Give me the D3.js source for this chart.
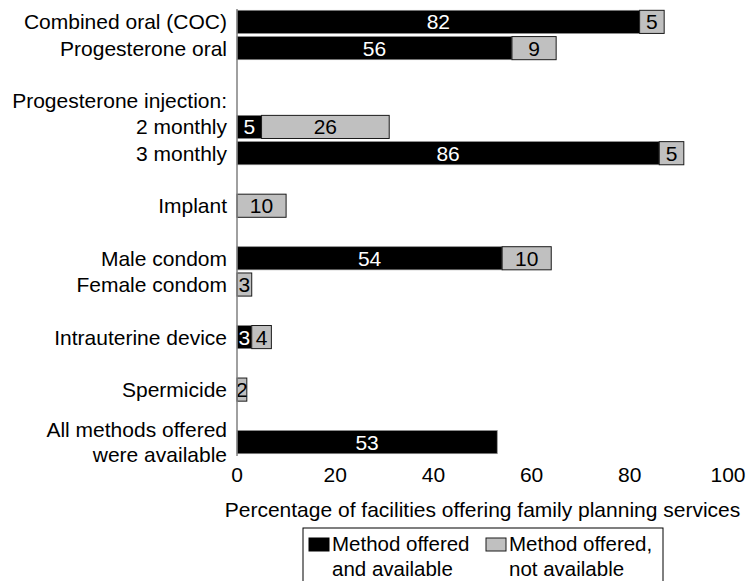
<!DOCTYPE html>
<html>
<head>
<meta charset="utf-8">
<script src="https://cdn.jsdelivr.net/npm/d3@7"></script>
<style>
  body { margin: 0; background: #fff; }
  svg text { font-family: "Liberation Sans", Arial, sans-serif; }
</style>
</head>
<body>
<div id="chart"></div>
<script>
// rows top to bottom; blank strings are spacer rows
const categories = [
  "Combined oral (COC)", "Progesterone oral", "", "Progesterone injection:",
  "2 monthly", "3 monthly", "", "Implant", "", "Male condom", "Female condom",
  "", "Intrauterine device", "", "Spermicide", "", "All methods offered|were available"
];
const available    = [82, 56, null, null, 5, 86, null, 0, null, 54, 0, null, 3, null, 0, null, 53];
const notAvailable = [5, 9, null, null, 26, 5, null, 10, null, 10, 3, null, 4, null, 2, null, 0];
const xTicks = [0, 20, 40, 60, 80, 100];
const legendLabels = [["Method offered", "and available"], ["Method offered,", "not available"]];

const width = 748, height = 581;
const margin = {top: 9, right: 20, bottom: 126, left: 237};
const fs = 21;

const svg = d3.select("#chart").append("svg")
  .attr("width", width)
  .attr("height", height);

const rows = categories.map((c, i) => ({i, label: c, a: available[i], n: notAvailable[i]}));

const x = d3.scaleLinear()
  .domain([0, 100])
  .range([margin.left, 728]);
const y = d3.scaleBand()
  .domain(rows.map(d => d.i))
  .range([margin.top, height - margin.bottom])
  .paddingInner(0.12)
  .paddingOuter(0.05);

const bars = rows.filter(d => d.a !== null);

// available (black)
svg.selectAll("rect.avail")
  .data(bars.filter(d => d.a > 0))
  .enter().append("rect")
  .attr("class", "avail")
  .attr("x", x(0))
  .attr("y", d => y(d.i))
  .attr("width", d => x(d.a) - x(0))
  .attr("height", y.bandwidth())
  .attr("fill", "#000")
  .attr("stroke", "#8a8a8a")
  .attr("stroke-width", 0.7);

// offered, not available (grey)
svg.selectAll("rect.notavail")
  .data(bars.filter(d => d.n > 0))
  .enter().append("rect")
  .attr("class", "notavail")
  .attr("x", d => x(d.a))
  .attr("y", d => y(d.i))
  .attr("width", d => x(d.a + d.n) - x(d.a))
  .attr("height", y.bandwidth())
  .attr("fill", "#c0c0c0")
  .attr("stroke", "#1a1a1a")
  .attr("stroke-width", 1);

// value labels
svg.selectAll("text.va")
  .data(bars.filter(d => d.a > 0))
  .enter().append("text")
  .attr("x", d => (x(0) + x(d.a)) / 2)
  .attr("y", d => y(d.i) + y.bandwidth() / 2)
  .attr("dy", "0.36em")
  .attr("text-anchor", "middle")
  .attr("font-size", fs)
  .attr("fill", "#fff")
  .text(d => d.a);

svg.selectAll("text.vn")
  .data(bars.filter(d => d.n > 0))
  .enter().append("text")
  .attr("x", d => (x(d.a) + x(d.a + d.n)) / 2)
  .attr("y", d => y(d.i) + y.bandwidth() / 2)
  .attr("dy", "0.36em")
  .attr("text-anchor", "middle")
  .attr("font-size", fs)
  .attr("fill", "#000")
  .text(d => d.n);

// category labels
rows.filter(d => d.label).forEach(d => {
  const lines = d.label.split("|");
  const cy = y(d.i) + y.bandwidth() / 2;
  lines.forEach((ln, k) => {
    svg.append("text")
      .attr("x", margin.left - 10)
      .attr("y", cy + (k - (lines.length - 1) / 2) * 25)
      .attr("dy", "0.36em")
      .attr("text-anchor", "end")
      .attr("font-size", fs)
      .attr("fill", "#000")
      .text(ln);
  });
});

// y axis line
svg.append("line")
  .attr("x1", x(0)).attr("x2", x(0))
  .attr("y1", margin.top).attr("y2", height - margin.bottom + 1)
  .attr("stroke", "#808080")
  .attr("stroke-width", 1.5);

// x tick labels (no axis line)
svg.selectAll("text.tick")
  .data(xTicks)
  .enter().append("text")
  .attr("x", d => x(d))
  .attr("y", 474)
  .attr("dy", "0.36em")
  .attr("text-anchor", "middle")
  .attr("font-size", fs)
  .text(d => d);

svg.append("text")
  .attr("x", (x(0) + x(100)) / 2)
  .attr("y", 509)
  .attr("dy", "0.36em")
  .attr("text-anchor", "middle")
  .attr("font-size", fs)
  .text("Percentage of facilities offering family planning services");

// legend
const lg = svg.append("g");
lg.append("rect")
  .attr("x", 303).attr("y", 528)
  .attr("width", 360).attr("height", 70)
  .attr("fill", "#fff")
  .attr("stroke", "#000")
  .attr("stroke-width", 1);
const swatch = [{fill: "#000", stroke: "#000", x: 309}, {fill: "#c0c0c0", stroke: "#1a1a1a", x: 486}];
swatch.forEach((s, i) => {
  lg.append("rect")
    .attr("x", s.x).attr("y", 538)
    .attr("width", 20).attr("height", 13)
    .attr("fill", s.fill).attr("stroke", s.stroke);
  legendLabels[i].forEach((t, k) => {
    lg.append("text")
      .attr("x", s.x + 23)
      .attr("y", 544 + k * 25)
      .attr("dy", "0.36em")
      .attr("font-size", 20.5)
      .text(t);
  });
});
</script>
</body>
</html>
